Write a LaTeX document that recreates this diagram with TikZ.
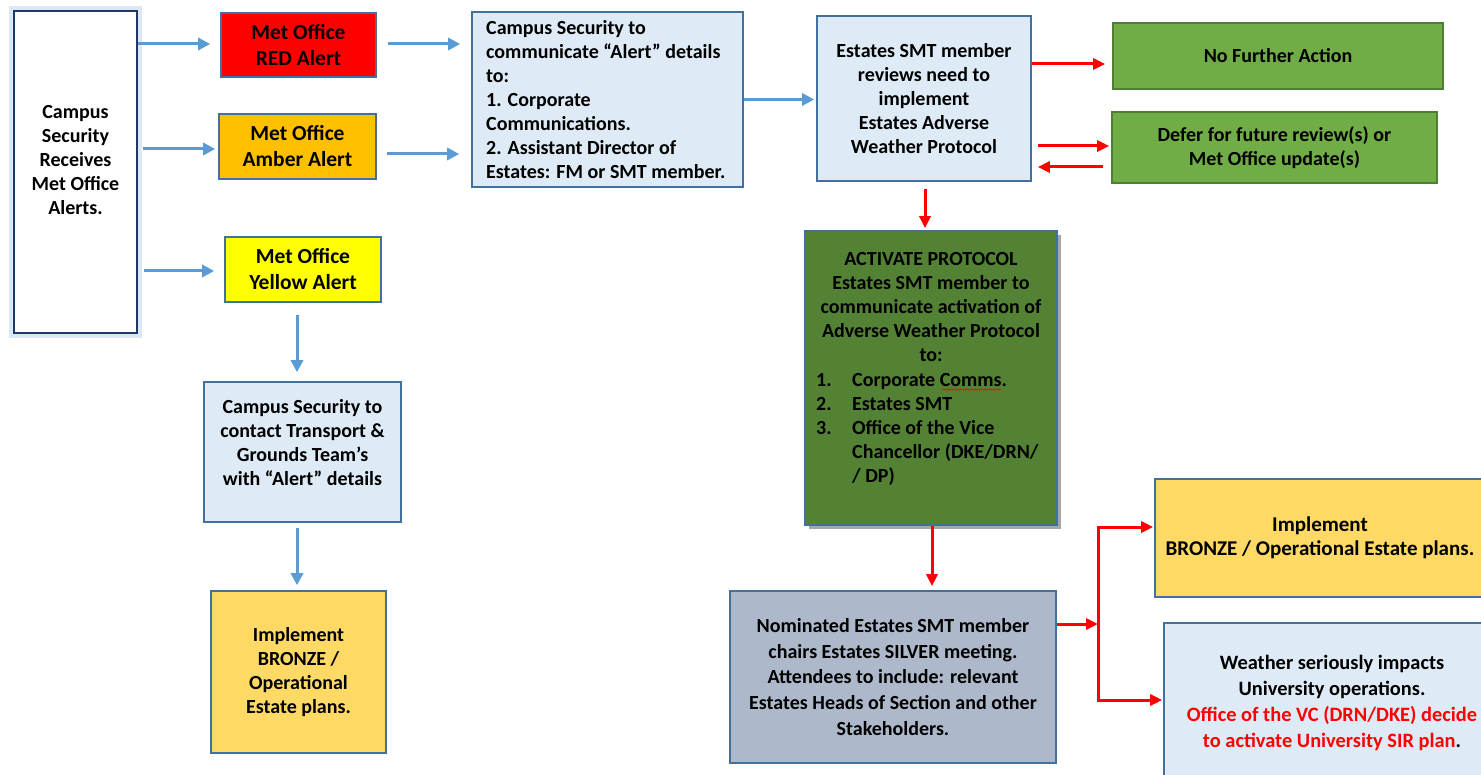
\documentclass[tikz,border=0pt]{standalone}
\usepackage{fontspec}
\setmainfont{Carlito}
\usetikzlibrary{arrows.meta,shadows,backgrounds,calc,decorations.pathmorphing}
\definecolor{bord}{HTML}{41719C}
\definecolor{navy}{HTML}{1F3864}
\definecolor{glowc}{HTML}{BDD7EE}
\definecolor{lightfill}{HTML}{DEEBF7}
\definecolor{arrowblue}{HTML}{5B9BD5}
\definecolor{alertred}{HTML}{FF0000}
\definecolor{amber}{HTML}{FFC000}
\definecolor{yel}{HTML}{FFFF00}
\definecolor{green1}{HTML}{70AD47}
\definecolor{green1b}{HTML}{507E32}
\definecolor{green2}{HTML}{548235}
\definecolor{gold}{HTML}{FFD966}
\definecolor{greyblue}{HTML}{ADB9CA}
\newcommand\fA{\bfseries\fontsize{20}{24}\selectfont}
\newcommand\fB{\bfseries\fontsize{21.5}{26}\selectfont}
\newcommand\fC{\bfseries\fontsize{20}{25.7}\selectfont}
\newcommand\fD{\bfseries\fontsize{21}{24.5}\selectfont}
\newcommand\fE{\bfseries\fontsize{20.4}{26}\selectfont}
\begin{document}
\begin{tikzpicture}[x=1pt,y=-1pt,
  box/.style={draw=bord, line width=1.6pt, inner sep=0pt, align=center, font=\fA},
  txt/.style={inner sep=0pt, align=center, font=\fA},
  barrow/.style={draw=arrowblue, line width=3pt, -{Triangle[length=12pt,width=12pt]}},
  rarrow/.style={draw=alertred, line width=3pt, -{Triangle[length=12pt,width=11pt]}}]
\useasboundingbox (0,0) rectangle (1481,775);
\clip (0,0) rectangle (1481,775);
% left column
\node[box, draw=navy, line width=2.5pt, fill=white, minimum width=123pt, minimum height=322pt] (cs) at (75.5,172) {};
\node[txt] (cstxt) at (75.5,160) {Campus\\Security\\Receives\\Met Office\\Alerts.};
\begin{scope}[on background layer]
\draw[glowc, line width=7pt, opacity=0.55] (cs.north west) rectangle (cs.south east);
\end{scope}
\node[box, fill=alertred, font=\fB, minimum width=155pt, minimum height=64pt] (red) at (298.5,45) {Met Office\\RED Alert};
\node[box, fill=amber, font=\fB, minimum width=157pt, minimum height=65pt] (amb) at (297.5,146.5) {Met Office\\Amber Alert};
\node[box, fill=yel, font=\fB, minimum width=156pt, minimum height=65pt] (yel) at (303,269.5) {Met Office\\Yellow Alert};
\node[box, fill=lightfill, minimum width=197pt, minimum height=140pt] (contact) at (302.5,452) {};
\node[txt] (contacttxt) at (302.5,442.5) {Campus Security to\\contact Transport \&\\Grounds Team’s\\with “Alert” details};
\node[box, fill=gold, minimum width=175pt, minimum height=162pt] (bronzeL) at (298.5,672) {Implement\\BRONZE /\\Operational\\Estate plans.};
% middle
\node[box, fill=lightfill, minimum width=271pt, minimum height=175pt] (comm) at (607.5,99.5) {};
\node[txt, align=left, anchor=west] (commtxt) at (486,100) {Campus Security to\\communicate “Alert” details\\to:\\1. Corporate\\Communications.\\2. Assistant Director of\\Estates: FM or SMT member.};
\node[box, fill=lightfill, minimum width=214pt, minimum height=165pt] (rev) at (924,98.5) {Estates SMT member\\reviews need to\\implement\\Estates Adverse\\Weather Protocol};
\node[box, draw=green1b, fill=green1, minimum width=330pt, minimum height=66pt] (nfa) at (1278,56) {No Further Action};
\node[box, draw=green1b, fill=green1, minimum width=325pt, minimum height=71pt] (defer) at (1274.5,147.5) {Defer for future review(s) or\\Met Office update(s)};
\node[box, fill=green2, minimum width=252pt, minimum height=294pt,
  drop shadow={shadow xshift=4pt, shadow yshift=-4pt, fill=black, opacity=0.35}] (act) at (931,378) {};
\node[txt, anchor=north] (acthead) at (931,252) {ACTIVATE PROTOCOL\\Estates SMT member to\\communicate activation of\\Adverse Weather Protocol\\to:};
\node[txt, align=left, anchor=north west] (actlist) at (816,373.5) {\makebox[36pt][l]{1.}Corporate Comms.\\\makebox[36pt][l]{2.}Estates SMT\\\makebox[36pt][l]{3.}Office of the Vice\\\hspace*{36pt}Chancellor (DKE/DRN/\\\hspace*{36pt}/ DP)};
\draw[alertred, line width=0.6pt, decorate, decoration={snake, amplitude=0.7pt, segment length=3pt}] (942,389.5) -- (1001,389.5);
\node[box, fill=greyblue, font=\fC, minimum width=326pt, minimum height=172pt] (nom) at (893,677) {Nominated Estates SMT member\\chairs Estates SILVER meeting.\\Attendees to include: relevant\\Estates Heads of Section and other\\Stakeholders.};
\node[box, fill=gold, font=\fD, minimum width=330pt, minimum height=118pt] (bronzeR) at (1320,538) {Implement\\BRONZE / Operational Estate plans.};
\node[box, fill=lightfill, font=\fE, minimum width=336pt, minimum height=160pt] (weather) at (1332,703) {Weather seriously impacts\\University operations.\\\textcolor{alertred}{Office of the VC (DRN/DKE) decide}\\\textcolor{alertred}{to activate University SIR plan}.};
% blue arrows
\draw[barrow, shorten >=10pt] ([yshift=1pt]cs.east |- red.west) -- ([yshift=1pt]red.west);
\draw[barrow, shorten <=5pt, shorten >=3pt] ([yshift=-2.5pt]cs.east |- amb.west) -- ([yshift=-2.5pt]amb.west);
\draw[barrow, shorten <=6pt, shorten >=10pt] ([yshift=-1.5pt]cs.east |- yel.west) -- ([yshift=-1.5pt]yel.west);
\draw[barrow, shorten <=11pt, shorten >=11pt] ([yshift=1pt]red.east) -- ([yshift=1pt]red.east -| comm.west);
\draw[barrow, shorten <=10pt, shorten >=12pt] ([yshift=-7.5pt]amb.east) -- ([yshift=-7.5pt]amb.east -| comm.west);
\draw[barrow, shorten >=2pt] (comm.east) -- (comm.east -| rev.west);
\draw[barrow, shorten <=12pt, shorten >=9pt] ([xshift=-6pt]yel.south) -- ([xshift=-6pt]yel.south |- contact.north);
\draw[barrow, shorten <=5pt, shorten >=5pt] ([xshift=-5.5pt]contact.south) -- ([xshift=-5.5pt]contact.south |- bronzeL.north);
% red arrows
\draw[rarrow, shorten >=7pt] ([yshift=-8pt]nfa.west -| rev.east) -- ([yshift=-8pt]nfa.west);
\draw[rarrow, shorten <=6pt, shorten >=2pt] ([yshift=1.5pt]defer.west -| rev.east) -- ([yshift=1.5pt]defer.west);
\draw[rarrow, shorten <=8pt, shorten >=6pt] ([yshift=-19.5pt]defer.west) -- ([yshift=-19.5pt]defer.west -| rev.east);
\draw[rarrow, shorten <=7pt, shorten >=2pt] ([xshift=1pt]rev.south) -- ([xshift=1pt]rev.south |- act.north);
\draw[rarrow, shorten >=4pt] ([xshift=1pt]act.south) -- ([xshift=1pt]act.south |- nom.north);
\coordinate (jn) at (1098,624);
\draw[rarrow] ([yshift=53pt]nom.east) -- (jn);
\draw[rarrow, shorten >=1pt] (jn) |- ([yshift=11pt]bronzeR.west);
\draw[rarrow, shorten >=1pt] (jn) |- ([yshift=3pt]weather.west);
\end{tikzpicture}
\end{document}
